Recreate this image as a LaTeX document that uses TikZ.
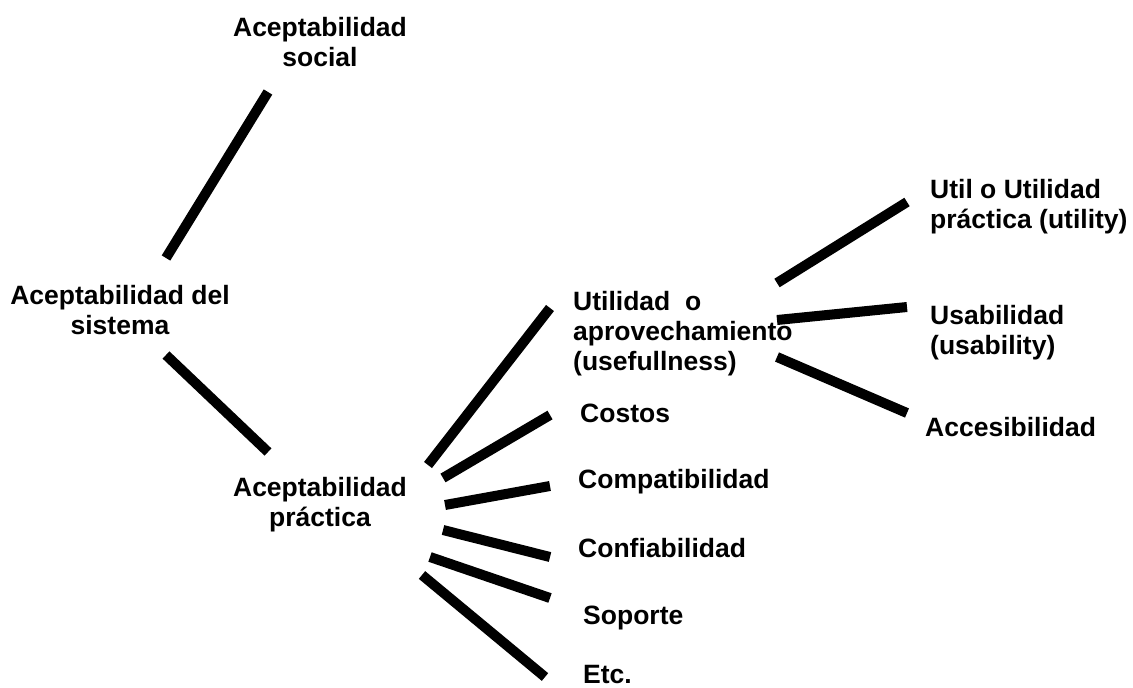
\documentclass[tikz,border=0pt]{standalone}
\usepackage{fontspec}
\setmainfont{Liberation Sans}
\begin{document}
\begin{tikzpicture}[x=1pt,y=-1pt,
  lbl/.style={font=\bfseries\fontsize{26.5}{30}\selectfont, inner sep=0pt},
  lblc/.style={lbl, align=center},
  lbll/.style={lbl, align=left, anchor=west},
  bar/.style={line width=10pt, line cap=butt}]
\useasboundingbox[fill=white] (0,0) rectangle (1133,688);

% labels
\node[lblc] (social) at (320,42) {Aceptabilidad\\social};
\node[lblc] (sistema) at (120,310) {Aceptabilidad del\\sistema};
\node[lblc] (practica) at (320,505) {Aceptabilidad\\práctica};
\node[lbll] (utilidad) at (573,334) {Utilidad~~o\\aprovechamiento\\(usefullness)};
\node[lbll] (costos) at (580,413) {Costos};
\node[lbll] (compat) at (578,482) {Compatibilidad};
\node[lbll] (confiab) at (578,548) {Confiabilidad};
\node[lbll] (soporte) at (583,618) {Soporte};
\node[lbll] (etc) at (583,675) {Etc.};
\node[lbll] (util) at (930,207) {Util o Utilidad\\práctica (utility)};
\node[lbll] (usab) at (930,333) {Usabilidad\\(usability)};
\node[lbll] (acces) at (925,427) {Accesibilidad};

% connector end points
\coordinate (sisA) at (166,258);
\coordinate (socB) at (268,92);
\coordinate (sisC) at (166,355);
\coordinate (praB) at (268,452);
\coordinate (p1) at (428,465); \coordinate (q1) at (550,308);
\coordinate (p2) at (443,478); \coordinate (q2) at (550,415);
\coordinate (p3) at (445,505); \coordinate (q3) at (550,486);
\coordinate (p4) at (443,530); \coordinate (q4) at (550,557);
\coordinate (p5) at (430,557); \coordinate (q5) at (550,598);
\coordinate (p6) at (422,575); \coordinate (q6) at (545,677);
\coordinate (u1) at (777,283); \coordinate (v1) at (907,202);
\coordinate (u2) at (777,320); \coordinate (v2) at (907,307);
\coordinate (u3) at (777,357); \coordinate (v3) at (907,413);

% connectors
\draw[bar] (sisA) -- (socB);
\draw[bar] (sisC) -- (praB);
\draw[bar] (p1) -- (q1);
\draw[bar] (p2) -- (q2);
\draw[bar] (p3) -- (q3);
\draw[bar] (p4) -- (q4);
\draw[bar] (p5) -- (q5);
\draw[bar] (p6) -- (q6);
\draw[bar] (u1) -- (v1);
\draw[bar] (u2) -- (v2);
\draw[bar] (u3) -- (v3);
\end{tikzpicture}
\end{document}
